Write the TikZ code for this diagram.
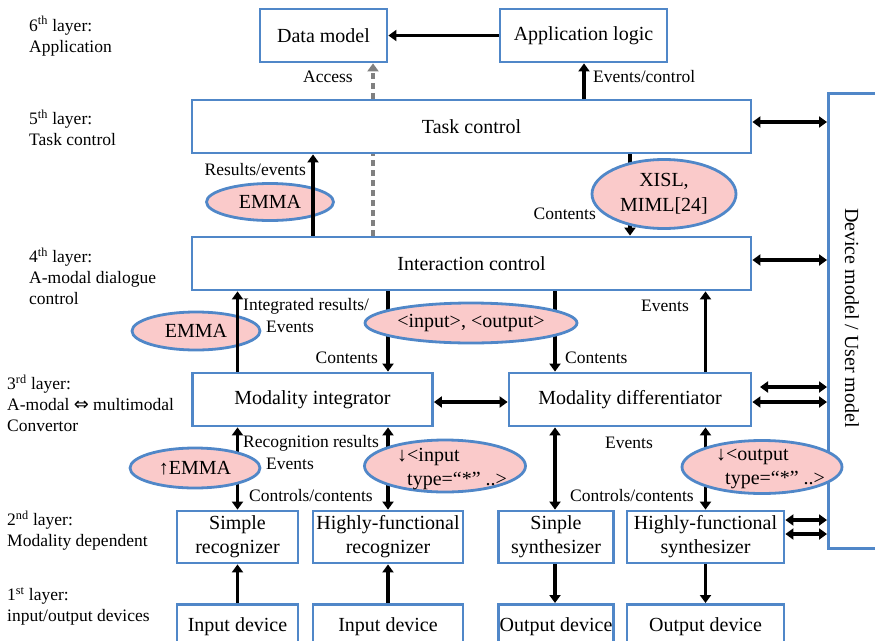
\documentclass[tikz,border=0pt]{standalone}
\usepackage{fontspec}
\setmainfont{Liberation Serif}
\newfontfamily\symfont{DejaVu Sans}
\usetikzlibrary{arrows.meta,shapes.geometric}
\definecolor{boxblue}{RGB}{80,135,200}
\definecolor{ellpink}{RGB}{250,202,202}
\definecolor{dashgray}{RGB}{128,128,128}
\begin{document}
\begin{tikzpicture}[x=1pt,y=-1pt,
  box/.style={draw=boxblue,line width=2.8pt,fill=white,inner sep=0pt,align=center,font=\fontsize{20}{24}\selectfont},
  devbox/.style={box,anchor=north,text height=27pt,text depth=30pt},
  ell/.style={ellipse,draw=boxblue,line width=2.8pt,fill=ellpink,inner sep=0pt,align=center,font=\fontsize{20}{25}\selectfont},
  etext/.style={inner sep=0pt,anchor=west,align=left,font=\fontsize{20}{24}\selectfont},
  lbl/.style={inner sep=0pt,font=\fontsize{17.5}{21}\selectfont},
  layer/.style={lbl,anchor=west,align=left},
  arr/.style={line width=3.2pt,-{Triangle[width=11pt,length=8pt]}},
  darr/.style={line width=3.2pt,{Triangle[width=11pt,length=8pt]}-{Triangle[width=11pt,length=8pt]}},
  dashline/.style={line width=3.4pt,draw=dashgray,dash pattern=on 6pt off 4pt},
  dasharr/.style={dashline,-{Triangle[width=11pt,length=8pt]}}
]
\useasboundingbox (0,0) rectangle (875,640);
\clip (0,0) rectangle (875,640);

% layer labels
\node[layer] (L6) at (29,36) {6\textsuperscript{th} layer:\\Application};
\node[layer] (L5) at (29,128) {5\textsuperscript{th} layer:\\Task control};
\node[layer] (L4) at (29,276) {4\textsuperscript{th} layer:\\A-modal dialogue\\control};
\node[layer] (L3) at (7,403) {3\textsuperscript{rd} layer:\\A-modal {\symfont\fontsize{18}{21}\selectfont ⇔} multimodal\\Convertor};
\node[layer] (L2) at (7,530.5) {2\textsuperscript{nd} layer:\\Modality dependent};
\node[layer] (L1) at (7,606.5) {1\textsuperscript{st} layer:\\input/output devices};

% boxes
\node[box,minimum width=127pt,minimum height=53pt] (dm) at (323.5,35.5) {Data model};
\node[box,minimum width=167pt,minimum height=53pt] (al) at (583.5,35.5) {Application logic};
\node[box,minimum width=559pt,minimum height=53pt] (tc) at (471.5,126.5) {Task control};
\node[box,minimum width=559pt,minimum height=53pt] (ic) at (471.5,263.5) {Interaction control};
\node[box,minimum width=240pt,minimum height=53pt] (mi) at (312.5,399.5) {Modality integrator};
\node[box,minimum width=242pt,minimum height=53pt] (md) at (630,399.5) {Modality differentiator};
\node[box,minimum width=121pt,minimum height=52pt] (sr) at (237.5,537) {Simple\\recognizer};
\node[box,minimum width=150pt,minimum height=52pt] (hr) at (388,537) {Highly-functional\\recognizer};
\node[box,minimum width=115pt,minimum height=52pt] (ss) at (556,537) {Sinple\\synthesizer};
\node[box,minimum width=157pt,minimum height=52pt] (hs) at (705.5,537) {Highly-functional\\synthesizer};
\node[devbox,minimum width=121pt] (id1) at (237.5,603) {Input device};
\node[devbox,minimum width=150pt] (id2) at (388,603) {Input device};
\node[devbox,minimum width=115pt] (od1) at (556,603) {Output device};
\node[devbox,minimum width=157pt] (od2) at (705.5,603) {Output device};
\node[box,anchor=north west,minimum width=80pt,minimum height=455pt] (dev) at (827,92) {};
\node[inner sep=0pt,rotate=-90,font=\fontsize{20}{24}\selectfont] (devt) at (852,318) {Device model / User model};

% ellipses under the arrows
\node[ell,minimum width=127pt,minimum height=37pt] (e1) at (270,202) {EMMA};
\node[ell,minimum width=128pt,minimum height=38pt] (e4) at (196,331) {EMMA};

% x / y reference coordinates
\coordinate (xA) at (584,0);
\coordinate (xB) at (373,0);
\coordinate (xC) at (313,0);
\coordinate (xD) at (630,0);
\coordinate (xE) at (237.5,0);
\coordinate (xF) at (388,0);
\coordinate (xG) at (555,0);
\coordinate (xH) at (705.5,0);
\coordinate (xI) at (760,0);
\coordinate (y1) at (0,122);
\coordinate (y2) at (0,260);
\coordinate (y3) at (0,387);
\coordinate (y4) at (0,402);
\coordinate (y5) at (0,520);
\coordinate (y6) at (0,534);

% connectors
\draw[arr] (al.west) -- (dm.east);
\draw[arr] (xA |- tc.north) -- (xA |- al.south);
\draw[dashline] (xB |- ic.north) -- (xB |- tc.south);
\draw[dasharr] (xB |- tc.north) -- (xB |- dm.south);
\draw[arr] (xC |- ic.north) -- (xC |- tc.south);
\draw[arr] (xD |- tc.south) -- (xD |- ic.north);
\draw[arr] (xE |- mi.north) -- (xE |- ic.south);
\draw[arr] (xF |- ic.south) -- (xF |- mi.north);
\draw[arr] (xG |- ic.south) -- (xG |- md.north);
\draw[arr] (xH |- md.north) -- (xH |- ic.south);
\draw[darr] (y4 -| mi.east) -- (y4 -| md.west);
\draw[darr] (y1 -| tc.east) -- (y1 -| dev.west);
\draw[darr] (y2 -| ic.east) -- (y2 -| dev.west);
\draw[darr] (y3 -| xI) -- (y3 -| dev.west);
\draw[darr] (y4 -| md.east) -- (y4 -| dev.west);
\draw[darr] (y5 -| hs.east) -- (y5 -| dev.west);
\draw[darr] (y6 -| hs.east) -- (y6 -| dev.west);
\draw[darr] (xE |- mi.south) -- (xE |- sr.north);
\draw[darr] (xF |- mi.south) -- (xF |- hr.north);
\draw[darr] (xG |- md.south) -- (xG |- ss.north);
\draw[darr] (xH |- md.south) -- (xH |- hs.north);
\draw[arr] (xE |- id1.north) -- (xE |- sr.south);
\draw[arr] (xF |- id2.north) -- (xF |- hr.south);
\draw[arr] (xG |- ss.south) -- (xG |- od1.north);
\draw[arr] (xH |- hs.south) -- (xH |- od2.north);

% ellipses over the arrows
\node[ell,minimum width=144pt,minimum height=69pt] (e2) at (664,194) {XISL,\\MIML[24]};
\node[ell,minimum width=212pt,minimum height=40pt] (e3) at (471,323) {<input>, <output>};
\node[ell,minimum width=130pt,minimum height=40pt] (e5) at (195,468) {↑EMMA};
\node[ell,minimum width=161pt,minimum height=52pt] (e6) at (445,466) {};
\node[etext] (e6t) at (397,469) {↓<input\\\hspace*{10pt}type=“*” ..>};
\node[ell,minimum width=160pt,minimum height=53pt] (e7) at (762,467) {};
\node[etext] (e7t) at (716,469) {↓<output\\\hspace*{9pt}type=“*” ..>};

% connector labels
\node[lbl,anchor=east] (lacc) at (353,77) {Access};
\node[lbl,anchor=west] (levc) at (593,77) {Events/control};
\node[lbl,anchor=east] (lres) at (306,170) {Results/events};
\node[lbl,anchor=east] (lcon1) at (596,214) {Contents};
\node[lbl,anchor=west] (lint1) at (243,306) {Integrated results/};
\node[lbl,anchor=west] (lint2) at (266,327) {Events};
\node[lbl,anchor=east] (lcon2) at (378,358) {Contents};
\node[lbl,anchor=west] (lcon3) at (565,358) {Contents};
\node[lbl,anchor=east] (lev2) at (689,306) {Events};
\node[lbl,anchor=west] (lrec) at (243,443) {Recognition results};
\node[lbl,anchor=west] (lev3) at (266,464) {Events};
\node[lbl,anchor=west] (lctl1) at (249,496) {Controls/contents};
\node[lbl,anchor=west] (lev4) at (605,443) {Events};
\node[lbl,anchor=west] (lctl2) at (570,496) {Controls/contents};
\end{tikzpicture}
\end{document}
